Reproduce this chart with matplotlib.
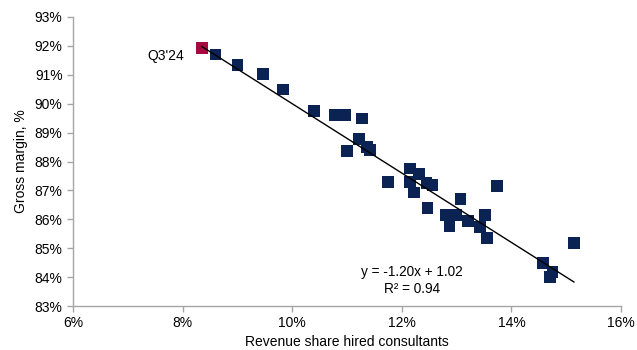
import numpy as np
import matplotlib
matplotlib.use("Agg")
import matplotlib.pyplot as plt
from matplotlib.ticker import FuncFormatter

plt.rcParams['font.family'] = ['Liberation Sans', 'DejaVu Sans']

# Revenue share of hired consultants (%) and gross margin (%) per quarter
consultant_share = [8.35, 8.60, 9.00, 9.46, 9.83, 10.40, 10.77, 10.97, 11.27, 11.22,
                    11.00, 11.36, 11.42, 11.75, 12.15, 12.32, 12.15, 12.22, 12.45, 12.56,
                    12.47, 12.81, 13.00, 12.87, 13.07, 13.21, 13.52, 13.43, 13.56, 13.74,
                    15.14, 14.57, 14.75, 14.70]
gross_margin = [91.93, 91.70, 91.34, 91.03, 90.49, 89.74, 89.60, 89.60, 89.49, 88.77,
                88.37, 88.49, 88.40, 87.30, 87.76, 87.56, 87.30, 86.93, 87.25, 87.19,
                86.38, 86.15, 86.15, 85.77, 86.69, 85.95, 86.15, 85.74, 85.34, 87.15,
                85.17, 84.48, 84.19, 83.99]
latest_label = "Q3'24"

# Linear trend (fractions) and fit quality
slope, intercept = -1.20, 1.02
r_squared = 0.94

x_ticks = [6, 8, 10, 12, 14, 16]
y_ticks = [83, 84, 85, 86, 87, 88, 89, 90, 91, 92, 93]

navy = '#0A2352'
crimson = '#A5093F'
axis_grey = '#A6A6A6'

fig = plt.figure(figsize=(6.37, 3.5), dpi=100)
ax = fig.add_axes([73 / 637, 1 - 306 / 350, (621 - 73) / 637, (306 - 17) / 350])

x = np.array(consultant_share)
y = np.array(gross_margin)

# Trend line over the observed range
xf = np.array([x.min(), x.max()]) / 100
ax.plot(xf * 100, (slope * xf + intercept) * 100, color='black', lw=1.0, zorder=3)

ax.scatter(x[1:], y[1:], marker='s', s=72, color=navy, edgecolors='none', zorder=2)
ax.scatter(x[:1], y[:1], marker='s', s=72, color=crimson, edgecolors='none', zorder=2)

ax.text(x[0] - 0.32, y[0] - 0.28, latest_label, ha='right', va='center', fontsize=10)

eq = f"y = {slope:.2f}x + {intercept:.2f}"
ax.text(12.19, 84.18, eq, ha='center', va='center', fontsize=9.8)
ax.text(12.19, 83.60, f"R\u00b2 = {r_squared:.2f}", ha='center', va='center', fontsize=9.8)

ax.set_xlim(6, 16)
ax.set_ylim(83, 93)
ax.set_xticks(x_ticks)
ax.set_yticks(y_ticks)
ax.xaxis.set_major_formatter(FuncFormatter(lambda v, p: f"{v:.0f}%"))
ax.yaxis.set_major_formatter(FuncFormatter(lambda v, p: f"{v:.0f}%"))

for side in ['top', 'right']:
    ax.spines[side].set_visible(False)
for side in ['left', 'bottom']:
    ax.spines[side].set_color(axis_grey)
    ax.spines[side].set_linewidth(1.0)
ax.tick_params(axis='both', colors=axis_grey, labelcolor='black', labelsize=10,
               length=4, width=1.0, direction='out')

ax.set_xlabel('Revenue share hired consultants', fontsize=10, labelpad=3)
ax.set_ylabel('Gross margin, %', fontsize=10, labelpad=5)

fig.savefig('out.png', dpi=100)
